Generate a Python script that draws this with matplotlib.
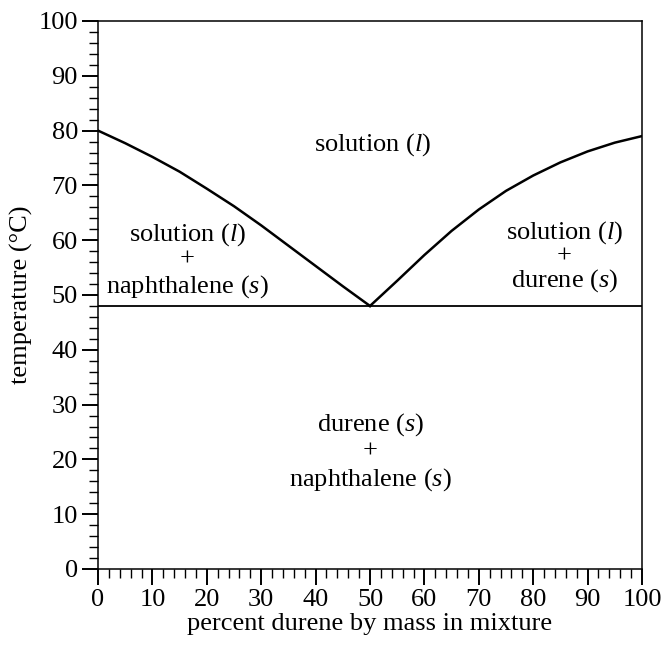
import numpy as np
import matplotlib.pyplot as plt
from matplotlib.ticker import MultipleLocator

plt.rcParams["font.family"] = ["Liberation Serif", "DejaVu Serif"]
plt.rcParams["mathtext.fontset"] = "custom"
plt.rcParams["mathtext.rm"] = "Liberation Serif"
plt.rcParams["mathtext.it"] = "Liberation Serif:italic"

# liquidus curves
naph_x = [0, 5, 10, 15, 20, 25, 30, 35, 40, 45, 50]
naph_t = [80, 77.7, 75.2, 72.5, 69.4, 66.2, 62.7, 59.0, 55.3, 51.6, 48]
dur_x = [50, 55, 60, 65, 70, 75, 80, 85, 90, 95, 100]
dur_t = [48, 52.6, 57.3, 61.7, 65.6, 69.0, 71.8, 74.2, 76.2, 77.8, 79]
eutectic_t = 48

fig = plt.figure(figsize=(6.65, 6.46), dpi=100)
ax = fig.add_axes([0.1474, 0.1192, 0.8180, 0.8483])

ax.plot(naph_x, naph_t, color="black", lw=1.8, solid_joinstyle="round")
ax.plot(dur_x, dur_t, color="black", lw=1.8, solid_joinstyle="round")
ax.axhline(eutectic_t, color="black", lw=1.3)

ax.set_xlim(0, 100)
ax.set_ylim(0, 100)
ax.xaxis.set_major_locator(MultipleLocator(10))
ax.xaxis.set_minor_locator(MultipleLocator(2))
ax.yaxis.set_major_locator(MultipleLocator(10))
ax.yaxis.set_minor_locator(MultipleLocator(2))
ax.tick_params(which="major", direction="out", length=11.5, width=1.4,
               labelsize=19, pad=3)
ax.tick_params(which="minor", direction="out", length=6.5, width=1.0)
for s in ax.spines.values():
    s.set_linewidth(1.1)

ax.set_xlabel("percent durene by mass in mixture", fontsize=19, labelpad=1)
ax.set_ylabel("temperature (°C)", fontsize=19, labelpad=4)

fs = 19
ax.text(50.5, 77.4, "solution ($l$)", fontsize=fs, ha="center", va="center")

ax.text(16.4, 61.1, "solution ($l$)", fontsize=fs, ha="center", va="center")
ax.text(16.4, 56.4, "+", fontsize=fs, ha="center", va="center")
ax.text(16.4, 51.6, "naphthalene ($s$)", fontsize=fs, ha="center", va="center")

ax.text(85.7, 61.4, "solution ($l$)", fontsize=fs, ha="center", va="center")
ax.text(85.7, 57.1, "+", fontsize=fs, ha="center", va="center")
ax.text(85.7, 52.7, "durene ($s$)", fontsize=fs, ha="center", va="center")

ax.text(50.1, 26.3, "durene ($s$)", fontsize=fs, ha="center", va="center")
ax.text(50.1, 21.4, "+", fontsize=fs, ha="center", va="center")
ax.text(50.1, 16.4, "naphthalene ($s$)", fontsize=fs, ha="center", va="center")

fig.savefig("out.png", dpi=100)
